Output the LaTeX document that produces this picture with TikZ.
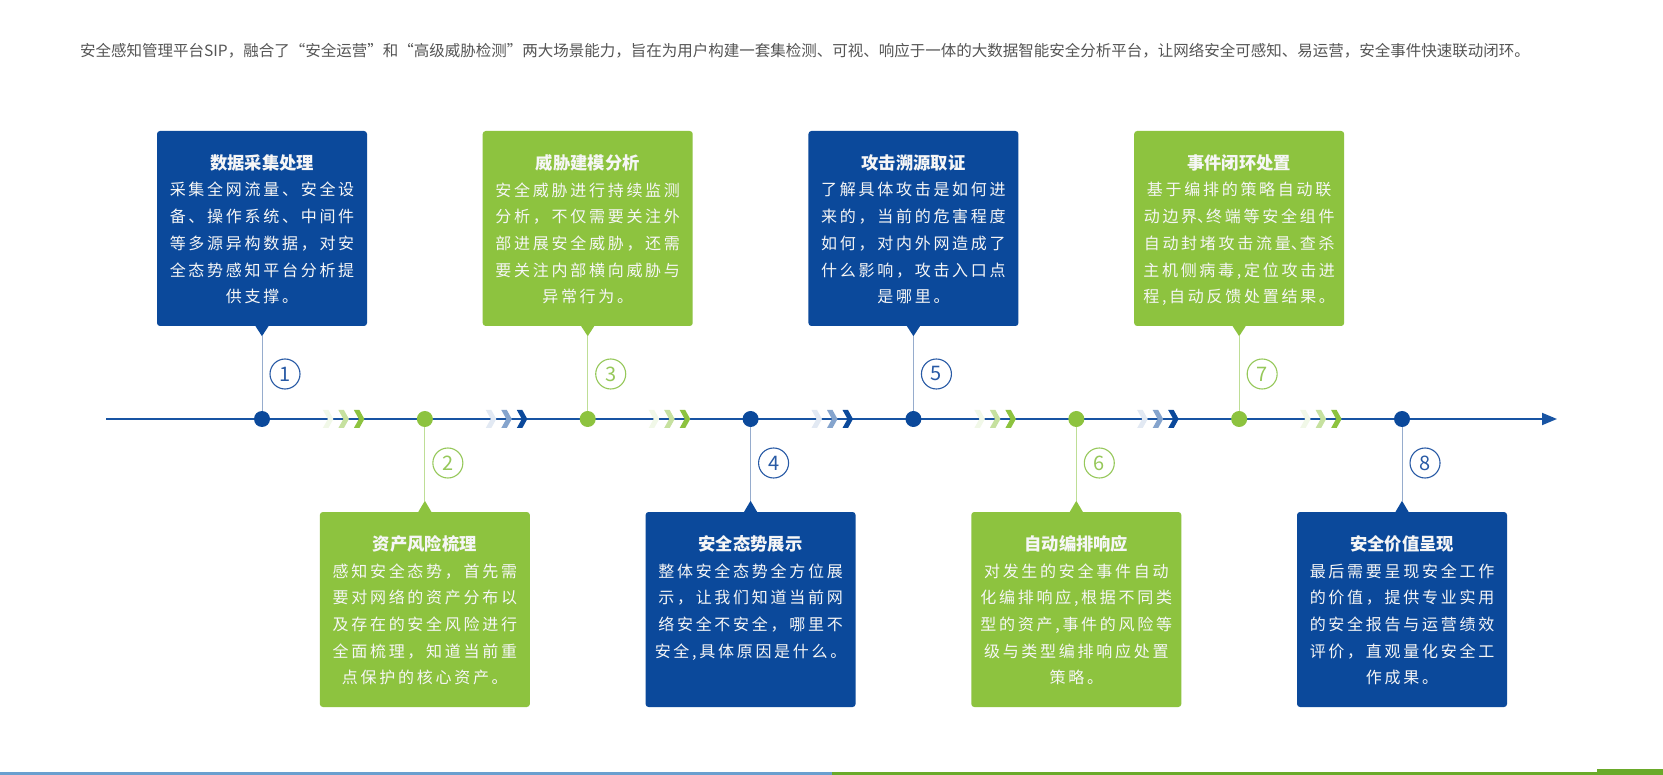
\documentclass[tikz,border=0pt]{standalone}
\usepackage{fontspec}
\setmainfont{Noto Sans CJK SC}
\newfontfamily\bodyfont{Noto Sans CJK SC}[LetterSpace=17]
\usetikzlibrary{arrows.meta}
\definecolor{cblue}{RGB}{11,73,155}
\definecolor{cgreen}{RGB}{141,195,63}
\definecolor{lineblue}{RGB}{24,84,163}
\definecolor{vblue}{RGB}{150,172,205}
\definecolor{vgreen}{RGB}{190,222,150}
\definecolor{nblue}{RGB}{40,90,165}
\definecolor{ngreen}{RGB}{150,200,90}
\definecolor{hdrgray}{RGB}{85,85,85}
\definecolor{stripeblue}{RGB}{106,159,207}
\definecolor{stripegreen}{RGB}{106,170,42}
\definecolor{boxtxt}{RGB}{246,246,246}
\tikzset{
 card/.style={minimum width=210pt, minimum height=195pt, rounded corners=3pt, inner sep=0pt, fill=#1},
 cardtext/.style={anchor=north, inner sep=0pt, align=center, text=boxtxt, font=\bodyfont\fontsize{16}{26.7}\selectfont},
 dotnode/.style={circle, fill=#1, minimum size=16pt, inner sep=0pt},
 numnode/.style={circle, draw=#1, line width=1.1pt, text=#1, minimum size=30pt, inner sep=0pt, font=\fontsize{20}{20}\selectfont},
 stem/.style={draw=#1, line width=1pt},
 chev/.pic={\fill[pic actions] (-5,-9) -- (0.5,-9) -- (5.5,0) -- (0.5,9) -- (-5,9) -- (0,0) -- cycle;},
}
\newcommand\ttlx[1]{{\normalfont\bfseries\fontsize{17.3}{26.7}\selectfont #1}}
\newcommand\hdun{\makebox[9pt][l]{、}}
\begin{document}
\begin{tikzpicture}[x=1pt,y=-1pt]
\useasboundingbox (0,0) rectangle (1663,775);
\fill[white] (0,0) rectangle (1663,775);

% header
\node[anchor=west, inner sep=0pt, text=hdrgray, font=\fontsize{15.5}{18}\selectfont] (hdr) at (80,51) {安全感知管理平台SIP，融合了“安全运营”和“高级威胁检测”两大场景能力，旨在为用户构建一套集检测、可视、响应于一体的大数据智能安全分析平台，让网络安全可感知、易运营，安全事件快速联动闭环。};

% cards
\node[card=cblue] (b1) at (262,228.5) {};
\node[card=cgreen] (b2) at (424.86,609.5) {};
\node[card=cgreen] (b3) at (587.72,228.5) {};
\node[card=cblue] (b4) at (750.58,609.5) {};
\node[card=cblue] (b5) at (913.44,228.5) {};
\node[card=cgreen] (b6) at (1076.3,609.5) {};
\node[card=cgreen] (b7) at (1239.16,228.5) {};
\node[card=cblue] (b8) at (1402.02,609.5) {};

% pointers
\foreach \b/\c in {b1/cblue,b3/cgreen,b5/cblue,b7/cgreen}{
  \fill[\c] ([xshift=-6.5pt]\b.south) -- ([yshift=-10pt]\b.south) -- ([xshift=6.5pt]\b.south) -- cycle;
  \coordinate (\b tip) at ([yshift=-10pt]\b.south);
}
\foreach \b/\c in {b2/cgreen,b4/cblue,b6/cgreen,b8/cblue}{
  \fill[\c] ([xshift=-6.5pt]\b.north) -- ([yshift=11pt]\b.north) -- ([xshift=6.5pt]\b.north) -- cycle;
  \coordinate (\b tip) at ([yshift=11pt]\b.north);
}

% dots coordinates
\coordinate (c1) at (262,419);
\coordinate (c2) at (424.86,419);
\coordinate (c3) at (587.72,419);
\coordinate (c4) at (750.58,419);
\coordinate (c5) at (913.44,419);
\coordinate (c6) at (1076.3,419);
\coordinate (c7) at (1239.16,419);
\coordinate (c8) at (1402.02,419);

% stems
\draw[stem=vblue] (b1tip) -- (c1);
\draw[stem=vgreen] (c2) -- (b2tip);
\draw[stem=vgreen] (b3tip) -- (c3);
\draw[stem=vblue] (c4) -- (b4tip);
\draw[stem=vblue] (b5tip) -- (c5);
\draw[stem=vgreen] (c6) -- (b6tip);
\draw[stem=vgreen] (b7tip) -- (c7);
\draw[stem=vblue] (c8) -- (b8tip);

% main line
\coordinate (ls) at (106,419);
\coordinate (le) at (1557,419);
\draw[line width=1.8pt, lineblue, -{Triangle[length=15pt,width=12pt]}] (ls) -- (le);

% chevrons
\foreach \m/\c in {343.4/cgreen, 506.3/cblue, 669.2/cgreen, 832/cblue, 994.9/cgreen, 1157.7/cblue, 1320.6/cgreen}{
  \pic[fill=\c!12] at (\m-15.5,419) {chev};
  \pic[fill=\c!50] at (\m,419) {chev};
  \pic[fill=\c] at (\m+15.5,419) {chev};
}

% dots
\node[dotnode=cblue] (d1) at (c1) {};
\node[dotnode=cgreen] (d2) at (c2) {};
\node[dotnode=cgreen] (d3) at (c3) {};
\node[dotnode=cblue] (d4) at (c4) {};
\node[dotnode=cblue] (d5) at (c5) {};
\node[dotnode=cgreen] (d6) at (c6) {};
\node[dotnode=cgreen] (d7) at (c7) {};
\node[dotnode=cblue] (d8) at (c8) {};

% numbers
\node[numnode=nblue] (n1) at (285,374) {1};
\node[numnode=ngreen] (n2) at (447.86,463) {2};
\node[numnode=ngreen] (n3) at (610.72,374) {3};
\node[numnode=nblue] (n4) at (773.58,463) {4};
\node[numnode=nblue] (n5) at (936.44,374) {5};
\node[numnode=ngreen] (n6) at (1099.3,463) {6};
\node[numnode=ngreen] (n7) at (1262.16,374) {7};
\node[numnode=nblue] (n8) at (1425.02,463) {8};

% card texts
\node[cardtext] (t1) at ([yshift=-23.4pt]b1.north) {\ttlx{数据采集处理}\\采集全网流量、安全设\\备、操作系统、中间件\\等多源异构数据，对安\\全态势感知平台分析提\\供支撑。};
\node[cardtext] (t2) at ([yshift=-23.4pt]b2.north) {\ttlx{资产风险梳理}\\感知安全态势，首先需\\要对网络的资产分布以\\及存在的安全风险进行\\全面梳理，知道当前重\\点保护的核心资产。};
\node[cardtext] (t3) at ([yshift=-23.4pt]b3.north) {\ttlx{威胁建模分析}\\安全威胁进行持续监测\\分析，不仅需要关注外\\部进展安全威胁，还需\\要关注内部横向威胁与\\异常行为。};
\node[cardtext] (t4) at ([yshift=-23.4pt]b4.north) {\ttlx{安全态势展示}\\整体安全态势全方位展\\示，让我们知道当前网\\络安全不安全，哪里不\\安全,具体原因是什么。};
\node[cardtext] (t5) at ([yshift=-23.4pt]b5.north) {\ttlx{攻击溯源取证}\\了解具体攻击是如何进\\来的，当前的危害程度\\如何，对内外网造成了\\什么影响，攻击入口点\\是哪里。};
\node[cardtext] (t6) at ([yshift=-23.4pt]b6.north) {\ttlx{自动编排响应}\\对发生的安全事件自动\\化编排响应,根据不同类\\型的资产,事件的风险等\\级与类型编排响应处置\\策略。};
\node[cardtext] (t7) at ([yshift=-23.4pt]b7.north) {\ttlx{事件闭环处置}\\基于编排的策略自动联\\动边界\hdun 终端等安全组件\\自动封堵攻击流量\hdun 查杀\\主机侧病毒,定位攻击进\\程,自动反馈处置结果。};
\node[cardtext] (t8) at ([yshift=-23.4pt]b8.north) {\ttlx{安全价值呈现}\\最后需要呈现安全工作\\的价值，提供专业实用\\的安全报告与运营绩效\\评价，直观量化安全工\\作成果。};

% bottom stripe
\fill[stripeblue] (0,772) rectangle (832,775);
\fill[stripegreen] (832,772) rectangle (1663,775);
\fill[stripegreen] (1597,769) rectangle (1663,775);
\end{tikzpicture}
\end{document}
